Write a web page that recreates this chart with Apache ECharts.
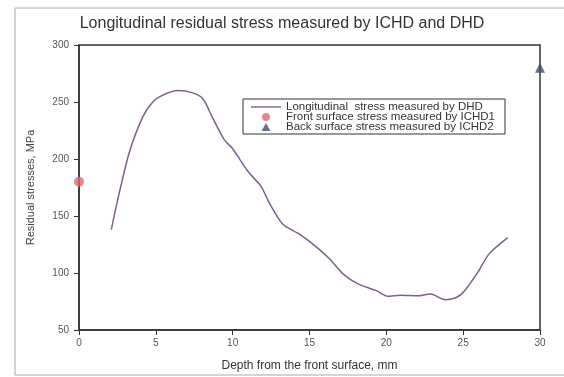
<!DOCTYPE html>
<html>
<head>
<meta charset="utf-8">
<script src="https://cdn.jsdelivr.net/npm/echarts@6/dist/echarts.min.js"></script>
<style>
  html, body { margin: 0; padding: 0; background: #fff; }
  #chart { width: 564px; height: 377px; }
</style>
</head>
<body>
<div id="chart"></div>
<script>
// Depth (mm) and longitudinal stress (MPa) measured by DHD
const dhdDepth = [2.1, 2.65, 3.3, 4.15, 4.8, 5.45, 6.45, 7.4, 8.05, 8.7, 9.45, 10.0, 11.0, 11.85, 12.4, 13.25, 14.35, 15.2, 16.3, 17.2, 18.15, 19.35, 20.1, 20.9, 22.0, 22.9, 23.8, 24.55, 25.1, 25.95, 26.7, 27.9];
const dhdStress = [138, 172, 207, 237, 250, 256, 260, 258, 253, 236, 217, 209, 189, 176, 161, 143, 134, 125.5, 112.5, 99, 90.5, 84.5, 79.5, 80.5, 80, 81.5, 76.5, 78.5, 84.5, 100.5, 117, 131];

// Surface stresses measured by ICHD
const frontSurface = [[0, 180]];
const backSurface = [[30, 280]];

const xTicks = { min: 0, max: 30, interval: 5 };
const yTicks = { min: 50, max: 300, interval: 50 };

const seriesNames = [
  'Longitudinal  stress measured by DHD',
  'Front surface stress measured by ICHD1',
  'Back surface stress measured by ICHD2'
];

const chart = echarts.init(document.getElementById('chart'));
const font = 'Liberation Sans, Arial, sans-serif';
const axisStyle = {
  axisLine: { show: true, lineStyle: { color: '#333', width: 1.5 } },
  axisTick: { show: true, inside: false, length: 5, lineStyle: { color: '#333' } },
  splitLine: { show: false },
  axisLabel: { color: '#555', fontSize: 10, fontFamily: font }
};

chart.setOption({
  animation: false,
  backgroundColor: '#fff',
  title: {
    text: 'Longitudinal residual stress measured by ICHD and DHD',
    left: 'center',
    top: 11,
    textStyle: { fontSize: 16, fontWeight: 'normal', color: '#333', fontFamily: font }
  },
  graphic: [
    { type: 'rect', shape: { x: 15, y: 8, width: 600, height: 367 }, style: { fill: 'none', stroke: '#9ab0b8', lineWidth: 1 }, silent: true },
    { type: 'rect', shape: { x: 79, y: 45, width: 461, height: 285 }, style: { fill: 'none', stroke: '#333', lineWidth: 1.5 }, silent: true, z: 1 }
  ],
  legend: {
    orient: 'vertical',
    left: 243,
    top: 99,
    itemGap: -2,
    itemWidth: 30,
    itemHeight: 8,
    padding: [2, 10, 1, 8],
    borderColor: '#333',
    borderWidth: 1,
    textStyle: { fontSize: 11.5, color: '#333', fontFamily: font, lineHeight: 10 },
    data: [
      { name: seriesNames[0], icon: 'path://M0,0L26,0L26,1.2L0,1.2Z' },
      { name: seriesNames[1], icon: 'circle' },
      { name: seriesNames[2], icon: 'path://M5,0L10,9L0,9Z' }
    ]
  },
  grid: { left: 79, right: 24, top: 45, bottom: 47 },
  xAxis: Object.assign({
    type: 'value',
    min: xTicks.min, max: xTicks.max, interval: xTicks.interval,
    name: 'Depth from the front surface, mm',
    nameLocation: 'middle',
    nameGap: 30,
    nameTextStyle: { fontSize: 12, color: '#333', fontFamily: font }
  }, axisStyle, { axisLabel: Object.assign({}, axisStyle.axisLabel, { margin: 8 }) }),
  yAxis: Object.assign({
    type: 'value',
    min: yTicks.min, max: yTicks.max, interval: yTicks.interval,
    name: 'Residual stresses, MPa',
    nameLocation: 'middle',
    nameGap: 43,
    nameTextStyle: { fontSize: 11, color: '#444', fontFamily: font }
  }, axisStyle, { axisLabel: Object.assign({}, axisStyle.axisLabel, { margin: 10 }) }),
  series: [
    {
      name: seriesNames[0],
      type: 'line',
      data: dhdDepth.map((d, i) => [d, dhdStress[i]]),
      smooth: 0.25,
      showSymbol: false,
      symbol: 'none',
      lineStyle: { color: '#7e5f8e', width: 1.5 },
      itemStyle: { color: '#7e5f8e' }
    },
    {
      name: seriesNames[1],
      type: 'scatter',
      data: frontSurface,
      symbol: 'circle',
      symbolSize: 10,
      clip: false,
      itemStyle: { color: '#e06a6e' },
      z: 5
    },
    {
      name: seriesNames[2],
      type: 'scatter',
      data: backSurface,
      symbol: 'triangle',
      symbolSize: 10,
      clip: false,
      itemStyle: { color: '#3d4e6e' },
      z: 5
    }
  ]
});
</script>
</body>
</html>
